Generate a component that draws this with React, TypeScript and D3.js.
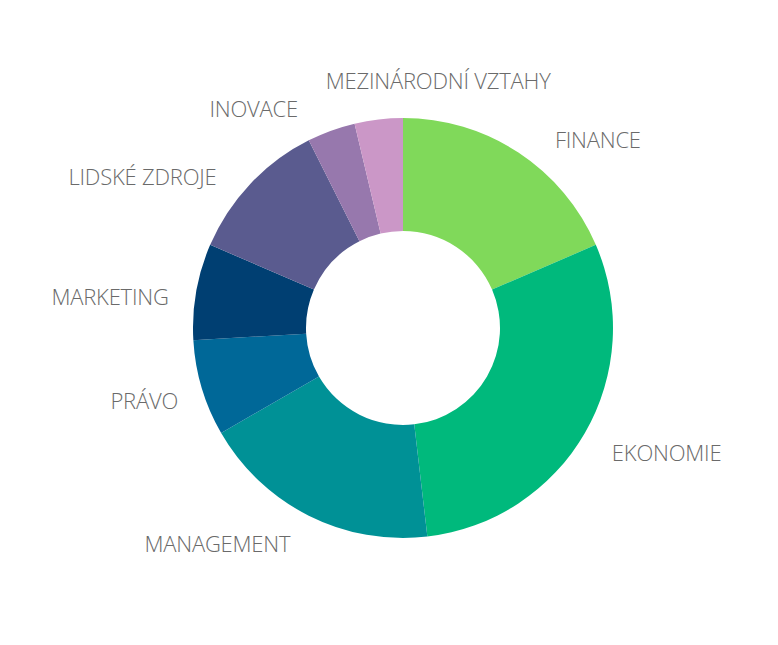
import React from "react";
import * as d3 from "d3";

const categories = [
  "FINANCE",
  "EKONOMIE",
  "MANAGEMENT",
  "PRÁVO",
  "MARKETING",
  "LIDSKÉ ZDROJE",
  "INOVACE",
  "MEZINÁRODNÍ VZTAHY",
];
const values = [5, 8, 5, 2, 2, 3, 1, 1];
const colors = [
  "#80d95a",
  "#00b97c",
  "#009196",
  "#006898",
  "#003f72",
  "#5a5b8f",
  "#9778ad",
  "#cb97c7",
];
// label layout nudges (collision-avoidance adjustments), in px
const labelNudge: [number, number][] = [
  [20, 11.5],
  [1, 4],
  [-5, 1],
  [5, 3.5],
  [2, 9.5],
  [-12, 12.5],
  [-23, 6],
  [63, -9.6],
];

const W = 778;
const H = 645;
const CX = 403;
const CY = 328;
const R_OUT = 210;
const R_IN = 97;
const R_LABEL = 240;

export default function App() {
  const pie = d3
    .pie<number>()
    .sort(null)
    .value((d) => d);
  const arcs = pie(values);
  const arc = d3
    .arc<d3.PieArcDatum<number>>()
    .innerRadius(R_IN)
    .outerRadius(R_OUT);

  return (
    <svg
      width={W}
      height={H}
      style={{ position: "absolute", left: 0, top: 0, background: "#fff" }}
    >
      <g transform={`translate(${CX},${CY})`}>
        {arcs.map((a, i) => (
          <path key={i} d={arc(a) || ""} fill={colors[i]} />
        ))}
        {arcs.map((a, i) => {
          const mid = (a.startAngle + a.endAngle) / 2;
          const s = Math.sin(mid);
          const c = Math.cos(mid);
          const x = R_LABEL * s + labelNudge[i][0];
          const y = -R_LABEL * c + labelNudge[i][1];
          const anchor = Math.abs(s) < 0.2 ? "middle" : s > 0 ? "start" : "end";
          return (
            <text
              key={"l" + i}
              x={x}
              y={y}
              textAnchor={anchor}
              dominantBaseline="central"
              fontFamily="'Open Sans', sans-serif"
              fontWeight={300}
              fontSize={22}
              letterSpacing={-0.2}
              fill="#6a6a6a"
            >
              {categories[i]}
            </text>
          );
        })}
      </g>
    </svg>
  );
}
